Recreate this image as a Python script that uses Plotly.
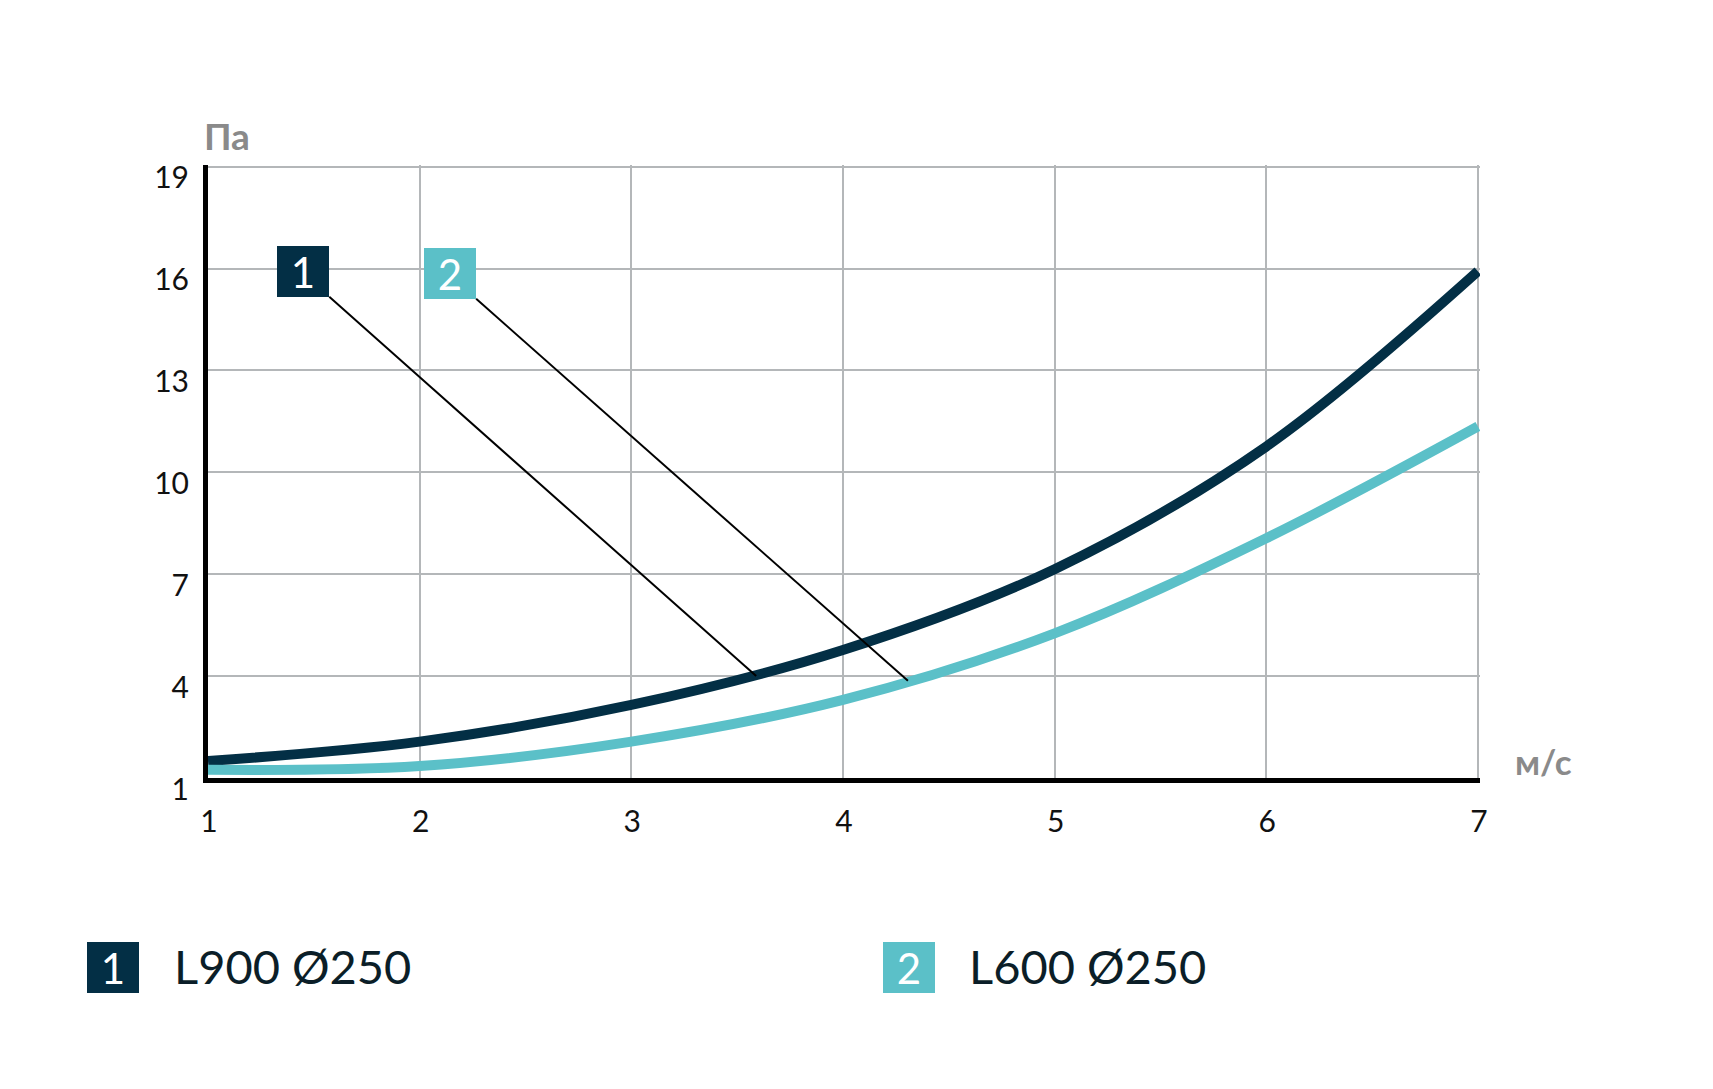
import plotly.graph_objects as go

# ---- data ----
speed = [1, 2, 3, 4, 5, 6, 7]                      # м/с
loss_L900 = [1.50, 2.07, 3.15, 4.77, 7.15, 10.76, 15.92]   # Па, series 1
loss_L600 = [1.24, 1.35, 2.07, 3.30, 5.26, 8.06, 11.35]    # Па, series 2
series_names = ["L900 Ø250", "L600 Ø250"]
series_tags = ["1", "2"]
x_ticks = [1, 2, 3, 4, 5, 6, 7]
y_ticks = [1, 4, 7, 10, 13, 16, 19]

# callout label anchors and leader line ends (data coords)
tag_x = [1.45, 2.144]
tag_y = [15.92, 15.86]
leader_x = [[1.573, 3.59], [2.267, 4.307]]
leader_y = [[15.17, 4.00], [15.11, 3.86]]

DARK = "#032f45"
TEAL = "#5bc0c8"
GRID = "#b4b7b9"
FONT = "Lato"

colors = [DARK, TEAL]
values = [loss_L900, loss_L600]

fig = go.Figure()
for name, vals, col in zip(series_names, values, colors):
    fig.add_trace(go.Scatter(x=speed, y=vals, mode="lines", name=name,
                             line=dict(color=col, width=10, shape="spline"),
                             showlegend=False, hoverinfo="skip"))
for lx, ly in zip(leader_x, leader_y):
    fig.add_trace(go.Scatter(x=lx, y=ly, mode="lines",
                             line=dict(color="#000000", width=2),
                             showlegend=False, hoverinfo="skip"))

annotations = []
for t, tx, ty, col in zip(series_tags, tag_x, tag_y, colors):
    annotations.append(dict(x=tx, y=ty, xref="x", yref="y", text=t, showarrow=False,
                            bgcolor=col, width=52, height=51, borderpad=0, borderwidth=0,
                            font=dict(family=FONT, size=42, color="white"),
                            xanchor="center", yanchor="middle"))

# legend (bottom)
leg_box_x = [-0.0745, 0.551]
leg_lbl_x = [-0.0285, 0.597]
for t, name, bx, lx, col in zip(series_tags, series_names, leg_box_x, leg_lbl_x, colors):
    annotations.append(dict(x=bx, y=-0.3085, xref="paper", yref="paper", text=t,
                            showarrow=False, bgcolor=col, width=52, height=51,
                            borderpad=0, borderwidth=0,
                            font=dict(family=FONT, size=42, color="white"),
                            xanchor="center", yanchor="middle"))
    annotations.append(dict(x=lx, y=-0.3068, xref="paper", yref="paper", text=name,
                            showarrow=False, font=dict(family=FONT, size=47, color="#0b1e28"),
                            xanchor="left", yanchor="middle"))

# axis units
annotations.append(dict(x=0.0153, y=1.0475, xref="paper", yref="paper", text="<b>Па</b>",
                        showarrow=False, font=dict(family=FONT, size=37, color="#8a8a8a"),
                        xanchor="center", yanchor="middle"))
annotations.append(dict(x=1.0497, y=0.027, xref="paper", yref="paper", text="<b>м/с</b>",
                        showarrow=False, font=dict(family=FONT, size=35, color="#8a8a8a"),
                        xanchor="center", yanchor="middle"))

fig.update_layout(
    width=1713, height=1089,
    margin=dict(l=208, r=233, t=165, b=311),
    paper_bgcolor="white", plot_bgcolor="white",
    annotations=annotations,
    showlegend=False,
)
fig.update_xaxes(range=[1, 7.01], tickvals=x_ticks, showgrid=True, gridcolor=GRID, gridwidth=1.5,
                 showline=True, linecolor="black", linewidth=5, zeroline=False,
                 ticks="", ticklabelstandoff=13, ticklabelshift=1,
                 tickfont=dict(family=FONT, size=30, color="#111111"))
fig.update_yaxes(range=[1, 19.05], tickvals=y_ticks, showgrid=True, gridcolor=GRID, gridwidth=1.5,
                 showline=True, linecolor="black", linewidth=5, zeroline=False,
                 ticks="", ticklabelstandoff=8, ticklabelshift=11,
                 tickfont=dict(family=FONT, size=30, color="#111111"))

fig.write_html("out.html")
